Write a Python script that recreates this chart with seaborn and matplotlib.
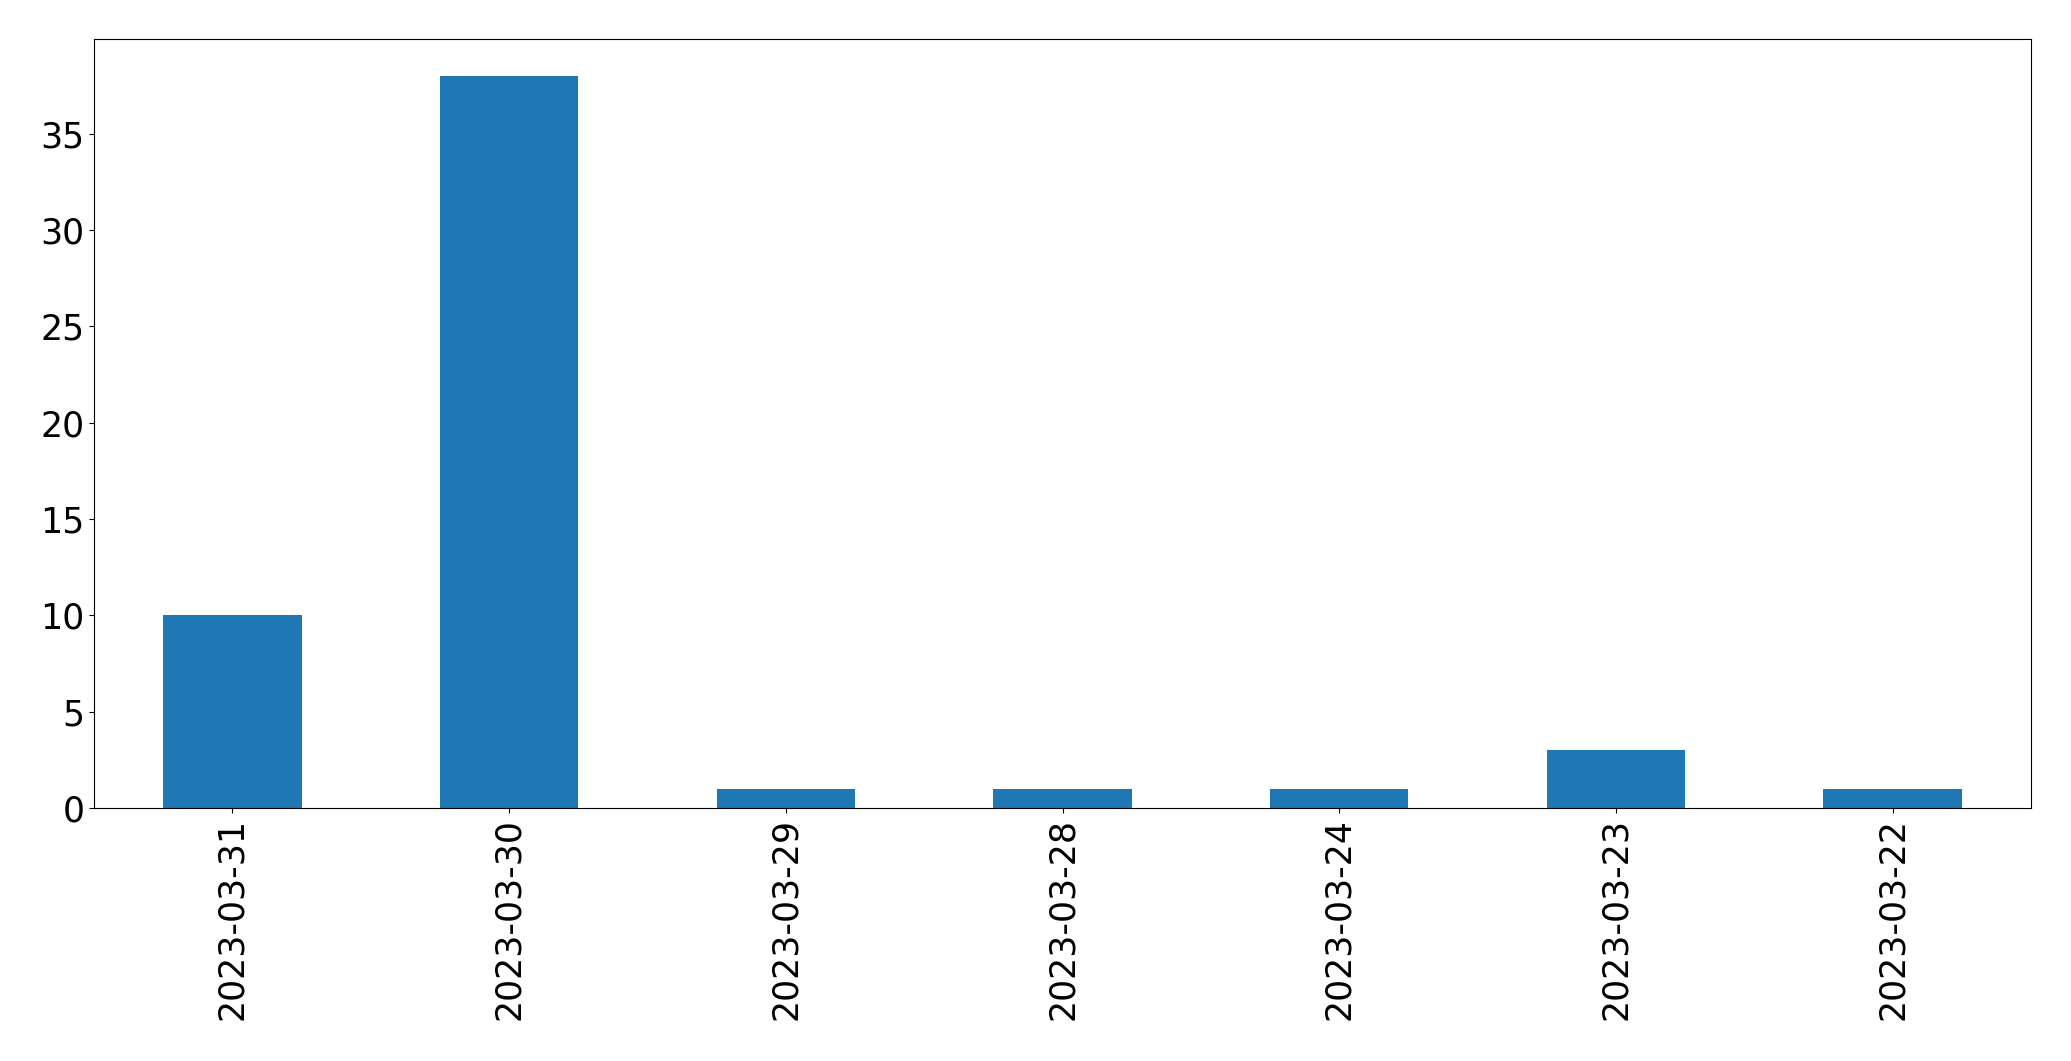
import matplotlib
matplotlib.use("Agg")
import matplotlib.pyplot as plt
import seaborn as sb
import pandas as pd

# data
dates = ["2023-03-31", "2023-03-30", "2023-03-29", "2023-03-28",
         "2023-03-24", "2023-03-23", "2023-03-22"]
counts = [10, 38, 1, 1, 1, 3, 1]

df = pd.DataFrame({"date": dates, "count": counts})

fig, ax = plt.subplots(figsize=(20.71, 10.61), dpi=100)
fig.subplots_adjust(left=0.0454, right=0.9807, top=0.963, bottom=0.2385)

sb.barplot(data=df, x="date", y="count", order=dates, color="#1f77b4",
           saturation=1, width=0.5, linewidth=0, ax=ax)

ax.set_xlim(-0.5, len(dates) - 0.5)
ax.set_xlabel("")
ax.set_ylabel("")
for s in ax.spines.values():
    s.set_edgecolor("black")
ax.tick_params(axis="both", labelsize=25, colors="black")
plt.setp(ax.get_xticklabels(), rotation=90)

fig.savefig("out.png", dpi=100)
